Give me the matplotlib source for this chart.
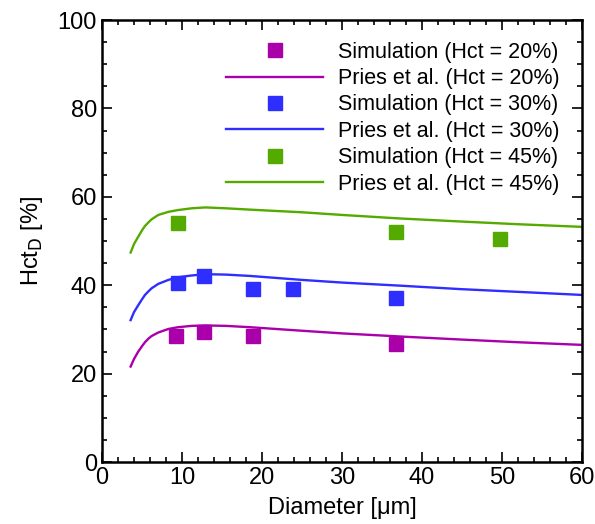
import matplotlib
matplotlib.use("Agg")
import matplotlib.pyplot as plt

plt.rcParams['font.family'] = ['Liberation Sans', 'DejaVu Sans']

# simulation points (diameter in um, Hct_D in %)
sim_d_20 = [9.3, 12.8, 18.9, 36.8]
sim_h_20 = [28.5, 29.4, 28.5, 26.7]
sim_d_30 = [9.5, 12.8, 18.9, 23.9, 36.8]
sim_h_30 = [40.5, 42.0, 39.1, 39.1, 37.1]
sim_d_45 = [9.5, 36.8, 49.8]
sim_h_45 = [54.1, 52.0, 50.4]

# Pries et al. curves
pries_d = [3.58, 4.0, 4.54, 5.0, 5.375, 5.8, 6.2, 7.04, 8.3, 9.5, 11.2, 12.9, 15.5, 18.5, 25, 30, 37.25, 45, 52, 60]
pries_20 = [21.6, 23.3, 25.0, 26.2, 27.1, 27.9, 28.5, 29.3, 30.1, 30.5, 30.8, 30.9, 30.8, 30.5, 29.7, 29.1, 28.4, 27.7, 27.1, 26.5]
pries_30 = [32.1, 33.9, 35.5, 36.8, 37.8, 38.6, 39.3, 40.3, 41.2, 41.8, 42.2, 42.5, 42.4, 42.1, 41.2, 40.6, 39.9, 39.1, 38.5, 37.8]
pries_45 = [47.4, 49.3, 51.0, 52.4, 53.4, 54.2, 54.9, 55.9, 56.6, 57.0, 57.4, 57.6, 57.4, 57.1, 56.5, 55.9, 55.1, 54.4, 53.8, 53.2]

c20 = '#aa00aa'
c30 = '#2e2eff'
c45 = '#55aa00'

fig = plt.figure(figsize=(5.95, 5.24), dpi=100)
ax = fig.add_axes([0.1714, 0.1183, 0.8066, 0.8435])

ax.plot(sim_d_20, sim_h_20, 's', color=c20, ms=9.5, label='Simulation (Hct = 20%)')
ax.plot(pries_d, pries_20, '-', color=c20, lw=1.7, label='Pries et al. (Hct = 20%)')
ax.plot(sim_d_30, sim_h_30, 's', color=c30, ms=9.5, label='Simulation (Hct = 30%)')
ax.plot(pries_d, pries_30, '-', color=c30, lw=1.7, label='Pries et al. (Hct = 30%)')
ax.plot(sim_d_45, sim_h_45, 's', color=c45, ms=9.5, label='Simulation (Hct = 45%)')
ax.plot(pries_d, pries_45, '-', color=c45, lw=1.7, label='Pries et al. (Hct = 45%)')

ax.set_xlim(0, 60)
ax.set_ylim(0, 100)
ax.set_xticks(range(0, 61, 10))
ax.set_yticks(range(0, 101, 20))
ax.set_xticks(range(0, 61, 2), minor=True)
ax.set_yticks(range(0, 101, 5), minor=True)
ax.tick_params(which='both', direction='in', top=True, right=True, labelsize=17, width=1.2)
ax.tick_params(which='major', length=7)
ax.tick_params(which='minor', length=3.5)
for s in ax.spines.values():
    s.set_linewidth(1.8)

ax.set_xlabel('Diameter [μm]', fontsize=17, labelpad=6)
ax.set_ylabel('Hct$_\\mathrm{D}$ [%]', fontsize=17, labelpad=9)

ax.legend(loc='upper right', bbox_to_anchor=(0.985, 0.985), frameon=False, fontsize=15.5,
          handlelength=4.5, handletextpad=0.7, labelspacing=0.25, borderpad=0.2)

fig.savefig('out.png', dpi=100)
